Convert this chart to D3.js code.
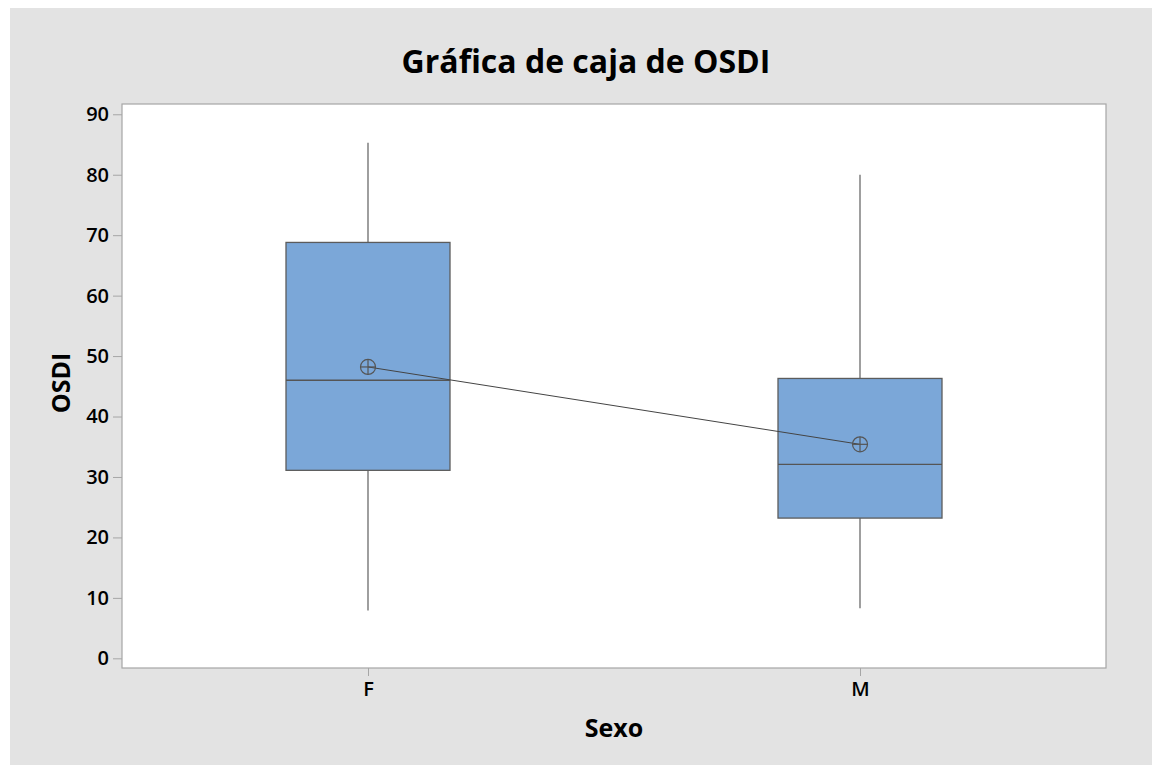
<!DOCTYPE html>
<html>
<head>
<meta charset="utf-8">
<script src="https://cdn.jsdelivr.net/npm/d3@7"></script>
<style>
  body { margin: 0; background: #fff; }
  text { font-family: "Open Sans", "Noto Sans", sans-serif; fill: #000; }
</style>
</head>
<body>
<svg id="vis" width="1152" height="767"></svg>
<script>
// Box plot summaries
const groups = ["F", "M"];
const q1 = [31.1, 23.2];
const median = [46.0, 32.1];
const q3 = [68.8, 46.3];
const whiskerLow = [7.9, 8.3];
const whiskerHigh = [85.3, 80.0];
const means = [48.2, 35.4];
const yTicks = [0, 10, 20, 30, 40, 50, 60, 70, 80, 90];

const svg = d3.select("svg#vis");

// figure background
svg.append("rect")
	.attr("x", 10).attr("y", 8)
	.attr("width", 1142).attr("height", 757)
	.attr("fill", "#e3e3e3");

const plot = { left: 122, top: 104, right: 1106, bottom: 668 };

svg.append("rect")
	.attr("x", plot.left).attr("y", plot.top)
	.attr("width", plot.right - plot.left).attr("height", plot.bottom - plot.top)
	.attr("fill", "#fff")
	.attr("stroke", "#a6a6a6")
	.attr("stroke-width", 1.2);

const y = d3.scaleLinear()
	.domain([-1.6, 91.7])
	.range([plot.bottom, plot.top]);

const x = d3.scalePoint()
	.domain(groups)
	.range([plot.left, plot.right])
	.padding(0.5);

const boxW = x.step() / 3;

// axes
const yAxis = svg.append("g")
	.attr("transform", translate(plot.left, 0))
	.call(d3.axisLeft(y).tickValues(yTicks).tickSize(9).tickPadding(4));

const xAxis = svg.append("g")
	.attr("transform", translate(0, plot.bottom))
	.call(d3.axisBottom(x).tickSize(8).tickPadding(6));

[yAxis, xAxis].forEach(function(a) {
	a.select(".domain").remove();
	a.selectAll(".tick line").attr("stroke", "#a6a6a6");
	a.selectAll(".tick text")
		.style("font-size", "20px")
		.style("font-weight", 600)
		.attr("fill", "#000");
});

// whiskers
const idx = d3.range(groups.length);

svg.append("g").selectAll("line.whisker")
	.data(idx)
	.enter()
	.append("line")
	.attr("class", "whisker")
	.attr("x1", i => x(groups[i])).attr("x2", i => x(groups[i]))
	.attr("y1", i => y(whiskerLow[i])).attr("y2", i => y(whiskerHigh[i]))
	.attr("stroke", "#6b6b6b")
	.attr("stroke-width", 1.3);

// boxes
svg.append("g").selectAll("rect.box")
	.data(idx)
	.enter()
	.append("rect")
	.attr("class", "box")
	.attr("x", i => x(groups[i]) - boxW / 2)
	.attr("width", boxW)
	.attr("y", i => y(q3[i]))
	.attr("height", i => y(q1[i]) - y(q3[i]))
	.attr("fill", "#7ba7d8")
	.attr("stroke", "#5c5c5c")
	.attr("stroke-width", 1.3);

// medians
svg.append("g").selectAll("line.median")
	.data(idx)
	.enter()
	.append("line")
	.attr("x1", i => x(groups[i]) - boxW / 2)
	.attr("x2", i => x(groups[i]) + boxW / 2)
	.attr("y1", i => y(median[i])).attr("y2", i => y(median[i]))
	.attr("stroke", "#555")
	.attr("stroke-width", 1.3);

// mean connect line
svg.append("path")
	.datum(idx)
	.attr("fill", "none")
	.attr("stroke", "#444")
	.attr("stroke-width", 1)
	.attr("d", d3.line().x(i => x(groups[i])).y(i => y(means[i])));

// mean symbols
const meanG = svg.append("g").selectAll("g.mean")
	.data(idx)
	.enter()
	.append("g")
	.attr("transform", i => translate(x(groups[i]), y(means[i])));

meanG.append("circle")
	.attr("r", 7.5)
	.attr("fill", "none")
	.attr("stroke", "#555")
	.attr("stroke-width", 1.2);
meanG.append("line")
	.attr("x1", -7.5).attr("x2", 7.5)
	.attr("stroke", "#555").attr("stroke-width", 1.2);
meanG.append("line")
	.attr("y1", -7.5).attr("y2", 7.5)
	.attr("stroke", "#555").attr("stroke-width", 1.2);

// titles
svg.append("text")
	.attr("x", 586).attr("y", 73)
	.attr("text-anchor", "middle")
	.style("font-size", "32px")
	.style("font-weight", 700)
	.text("Gráfica de caja de OSDI");

svg.append("text")
	.attr("x", 614).attr("y", 737)
	.attr("text-anchor", "middle")
	.style("font-size", "25px")
	.style("font-weight", 700)
	.text("Sexo");

svg.append("text")
	.attr("transform", translate(70, 383) + " rotate(-90)")
	.attr("text-anchor", "middle")
	.style("font-size", "25px")
	.style("font-weight", 700)
	.text("OSDI");

function translate(a, b) {
	return "translate(" + a + "," + b + ")";
}
</script>
</body>
</html>
